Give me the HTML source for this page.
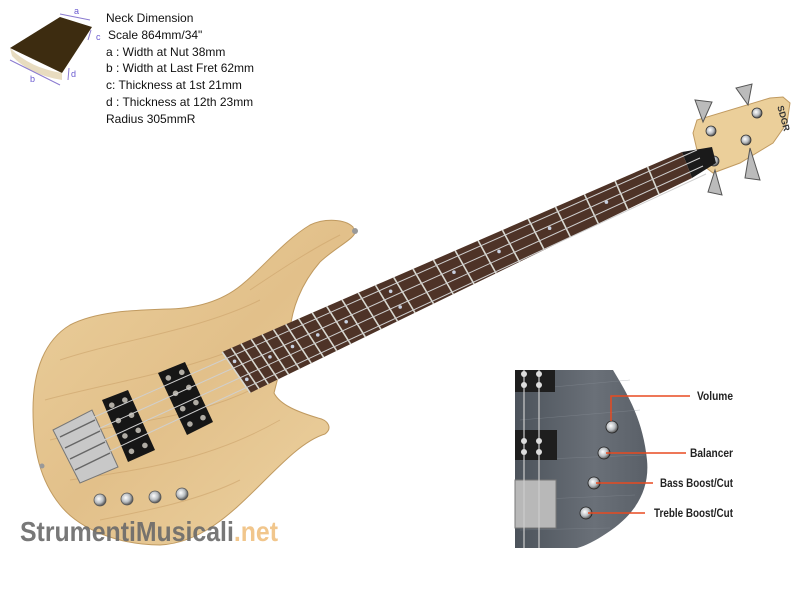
<!DOCTYPE html>
<html><head><meta charset="utf-8"><style>
html,body{margin:0;padding:0;background:#fff;width:800px;height:600px;overflow:hidden}
svg{display:block}
.t{font-family:"Liberation Sans",sans-serif;font-size:12px;fill:#111}
.l{font-family:"Liberation Sans",sans-serif;font-size:12px;font-weight:bold;fill:#222}
</style></head><body>
<svg id="s" width="800" height="600" viewBox="0 0 800 600" xmlns="http://www.w3.org/2000/svg">
<defs>
<linearGradient id="wood" x1="0" y1="0" x2="1" y2="1">
<stop offset="0" stop-color="#ebcf9c"/><stop offset="0.5" stop-color="#e2c08a"/><stop offset="1" stop-color="#edd3a2"/>
</linearGradient>
<linearGradient id="grey" x1="0" y1="0" x2="1" y2="0">
<stop offset="0" stop-color="#4c535b"/><stop offset="0.6" stop-color="#6a7078"/><stop offset="1" stop-color="#5a6068"/>
</linearGradient>
<radialGradient id="knob" cx="0.4" cy="0.4" r="0.6"><stop offset="0" stop-color="#fff"/><stop offset="0.6" stop-color="#b8bcc0"/><stop offset="1" stop-color="#555"/></radialGradient>
</defs>

<!-- neck dimension icon -->
<path d="M10,48 L60,17 L92,27 L62,73 Z" fill="#3d2c10"/>
<path d="M10,48 Q30,68 62,73 L62,80 Q30,75 12,56 Z" fill="#e8dcc0"/>
<g stroke="#8a7ad0" stroke-width="1" fill="none">
<line x1="60" y1="14" x2="90" y2="20"/><line x1="91" y1="30" x2="88" y2="40"/>
<line x1="10" y1="60" x2="60" y2="85"/><line x1="69" y1="68" x2="68" y2="80"/>
</g>
<g font-family="Liberation Sans,sans-serif" font-size="9" fill="#6a5ad0">
<text x="74" y="14">a</text><text x="96" y="40">c</text><text x="30" y="82">b</text><text x="71" y="77">d</text>
</g>
<g class="t">
<text x="106" y="22">Neck Dimension</text>
<text x="108" y="39">Scale 864mm/34"</text>
<text x="106" y="56">a : Width at Nut 38mm</text>
<text x="106" y="72">b : Width at Last Fret 62mm</text>
<text x="106" y="89">c: Thickness at 1st 21mm</text>
<text x="106" y="106">d : Thickness at 12th 23mm</text>
<text x="106" y="123">Radius 305mmR</text>
</g>

<!-- body -->
<path d="M353,227 C345,219 325,218 310,225 C285,240 265,265 245,282 C225,300 200,308 170,309 C130,310 95,312 70,325 C45,340 33,370 33,410 C33,450 40,480 60,505 C80,530 120,545 160,545 C200,543 230,515 260,485 C285,460 305,440 325,434 C333,428 328,420 318,418 C298,412 280,405 274,393 L290,330 C292,310 300,285 320,262 C335,248 352,240 355,233 Z" fill="url(#wood)" stroke="#c09a60" stroke-width="1"/>
<g stroke="#caa068" stroke-width="1" fill="none" opacity="0.55">
<path d="M60,360 C120,340 200,330 260,300"/><path d="M45,400 C120,380 200,370 280,330"/>
<path d="M50,440 C130,420 200,420 270,380"/><path d="M70,480 C140,470 210,460 280,420"/>
<path d="M100,520 C150,510 200,500 240,480"/><path d="M250,290 C280,270 310,250 340,235"/>
</g>
<circle cx="355" cy="231" r="3" fill="#999"/>
<circle cx="42" cy="466" r="2.5" fill="#999"/>

<!-- headstock -->
<path d="M693,133 L697,120 L770,98 L783,97 L790,103 L787,123 L773,143 L740,163 L713,173 L700,163 Z" fill="#ebcf9a" stroke="#c09a60"/>
<text x="770" y="104" transform="rotate(75 772 110)" font-family="Liberation Sans,sans-serif" font-size="9" font-weight="bold" fill="#333">SDGR</text>
<g fill="#bbb" stroke="#555" stroke-width="1">
<path d="M703,122 L695,100 L712,102 Z"/><path d="M748,105 L736,88 L752,84 Z"/>
<path d="M750,148 L760,180 L745,178 Z"/><path d="M715,170 L722,195 L708,192 Z"/>
</g>
<g fill="url(#knob)" stroke="#333" stroke-width="0.8">
<circle cx="711" cy="131" r="5"/><circle cx="757" cy="113" r="5"/><circle cx="746" cy="140" r="5"/><circle cx="714" cy="161" r="5"/>
</g>
<path d="M682,152 L712,147 L716,163 L692,178 Z" fill="#1a1a1a"/>

<!-- fretboard -->
<path d="M222,352 L682,152 L692,178 L250,393 Z" fill="#4e3327"/>
<g id="frets" stroke="#d8d8d0" stroke-width="1.6"></g>
<g id="dots" fill="#c8d0e0"></g>

<!-- pickups -->
<path d="M158,373 L185,362 L213,422 L187,435 Z" fill="#161616"/>
<path d="M102,400 L128,390 L155,450 L128,462 Z" fill="#161616"/>
<g id="poles" fill="#b0aca4"></g>

<!-- bridge -->
<path d="M53,430 L92,410 L118,467 L80,483 Z" fill="#c8c8c8" stroke="#777"/>
<g stroke="#666" stroke-width="1.5">
<line x1="60" y1="437" x2="95" y2="420"/><line x1="65" y1="448" x2="100" y2="431"/>
<line x1="70" y1="459" x2="105" y2="442"/><line x1="75" y1="470" x2="110" y2="453"/>
</g>

<!-- strings -->
<g id="strings" stroke="#cfcfcf" stroke-width="1"></g>

<!-- knobs -->
<g fill="url(#knob)" stroke="#555" stroke-width="0.8">
<circle cx="100" cy="500" r="6"/><circle cx="127" cy="499" r="6"/><circle cx="155" cy="497" r="6"/><circle cx="182" cy="494" r="6"/>
</g>

<!-- watermark -->
<text x="20" y="541" font-family="Liberation Sans,sans-serif" font-size="28" font-weight="bold" fill="#6a6a6a" opacity="0.9" textLength="258" lengthAdjust="spacingAndGlyphs">StrumentiMusicali<tspan fill="#f0c080">.net</tspan></text>

<!-- inset -->
<path d="M515,370 L613,370 C628,395 643,420 647,460 C650,490 635,515 607,533 C595,541 585,546 577,548 L515,548 Z" fill="url(#grey)"/>
<g stroke="#8a9098" stroke-width="0.6" opacity="0.5">
<line x1="520" y1="390" x2="630" y2="380"/><line x1="520" y1="420" x2="640" y2="410"/><line x1="520" y1="460" x2="645" y2="455"/><line x1="520" y1="500" x2="635" y2="495"/><line x1="520" y1="530" x2="610" y2="528"/>
</g>
<rect x="515" y="370" width="40" height="22" fill="#1e1e1e"/>
<rect x="515" y="430" width="42" height="30" fill="#1e1e1e"/>
<path d="M515,480 L556,480 L556,528 L515,528 Z" fill="#b8b8b8" stroke="#777"/>
<g stroke="#ccc" stroke-width="1.2"><line x1="524" y1="370" x2="524" y2="548"/><line x1="539" y1="370" x2="539" y2="548"/></g>
<g fill="#ddd"><circle cx="524" cy="374" r="3"/><circle cx="539" cy="374" r="3"/><circle cx="524" cy="385" r="3"/><circle cx="539" cy="385" r="3"/><circle cx="524" cy="441" r="3"/><circle cx="539" cy="441" r="3"/><circle cx="524" cy="452" r="3"/><circle cx="539" cy="452" r="3"/></g>
<g fill="url(#knob)" stroke="#222" stroke-width="0.8">
<circle cx="612" cy="427" r="6"/><circle cx="604" cy="453" r="6"/><circle cx="594" cy="483" r="6"/><circle cx="586" cy="513" r="6"/>
</g>
<g stroke="#e84a20" stroke-width="1.5" fill="none">
<path d="M611,421 L611,396 L690,396"/>
<line x1="606" y1="453" x2="686" y2="453"/>
<line x1="596" y1="483" x2="653" y2="483"/>
<line x1="588" y1="513" x2="645" y2="513"/>
</g>
<g class="l">
<text x="697" y="400" textLength="36" lengthAdjust="spacingAndGlyphs">Volume</text>
<text x="690" y="457" textLength="43" lengthAdjust="spacingAndGlyphs">Balancer</text>
<text x="660" y="487" textLength="73" lengthAdjust="spacingAndGlyphs">Bass Boost/Cut</text>
<text x="654" y="517" textLength="79" lengthAdjust="spacingAndGlyphs">Treble Boost/Cut</text>
</g>
</svg>
<script>
(function(){
var NS="http://www.w3.org/2000/svg";
function el(p,n,a){var e=document.createElementNS(NS,n);for(var k in a)e.setAttribute(k,a[k]);document.getElementById(p).appendChild(e);}
var T0=[222,352],T1=[682,152],B0=[250,393],B1=[692,178];
function lerp(a,b,t){return [a[0]+(b[0]-a[0])*t,a[1]+(b[1]-a[1])*t];}
var L=693,len=520;
var dots={3:1,5:1,7:1,9:1,12:2,15:1,17:1,19:1,21:1,24:2};
var prev=1;
for(var n=1;n<=24;n++){
 var d=L*(1-Math.pow(2,-n/12)),t=1-d/len; if(t<0)t=0.005;
 var a=lerp(T0,T1,t),b=lerp(B0,B1,t);
 el("frets","line",{x1:a[0],y1:a[1],x2:b[0],y2:b[1]});
 if(dots[n]){var tm=(t+prev)/2,a2=lerp(T0,T1,tm),b2=lerp(B0,B1,tm);
  if(dots[n]==1){var c=lerp(a2,b2,0.5);el("dots","circle",{cx:c[0],cy:c[1],r:1.8});}
  else{var c1=lerp(a2,b2,0.28),c2=lerp(a2,b2,0.72);el("dots","circle",{cx:c1[0],cy:c1[1],r:1.8});el("dots","circle",{cx:c2[0],cy:c2[1],r:1.8});}}
 prev=t;
}
var br=[[62,432],[68,443],[74,454],[80,465]];
var nt=[[697,150],[700,158],[703,166],[706,174]];
for(var i=0;i<4;i++){el("strings","line",{x1:br[i][0]+30,y1:br[i][1]-14,x2:nt[i][0],y2:nt[i][1]});}
function poles(p0,p1){for(var i=0;i<4;i++){for(var j=0;j<2;j++){var a=lerp(p0[0],p0[1],(j+0.5)/2),b=lerp(p1[0],p1[1],(j+0.5)/2);var c=lerp(a,b,(i+0.5)/4);el("poles","circle",{cx:c[0],cy:c[1],r:2.8});}}}
poles([[158,373],[185,362]],[[187,435],[213,422]]);
poles([[102,400],[128,390]],[[128,462],[155,450]]);
})();
</script>
</body></html>
